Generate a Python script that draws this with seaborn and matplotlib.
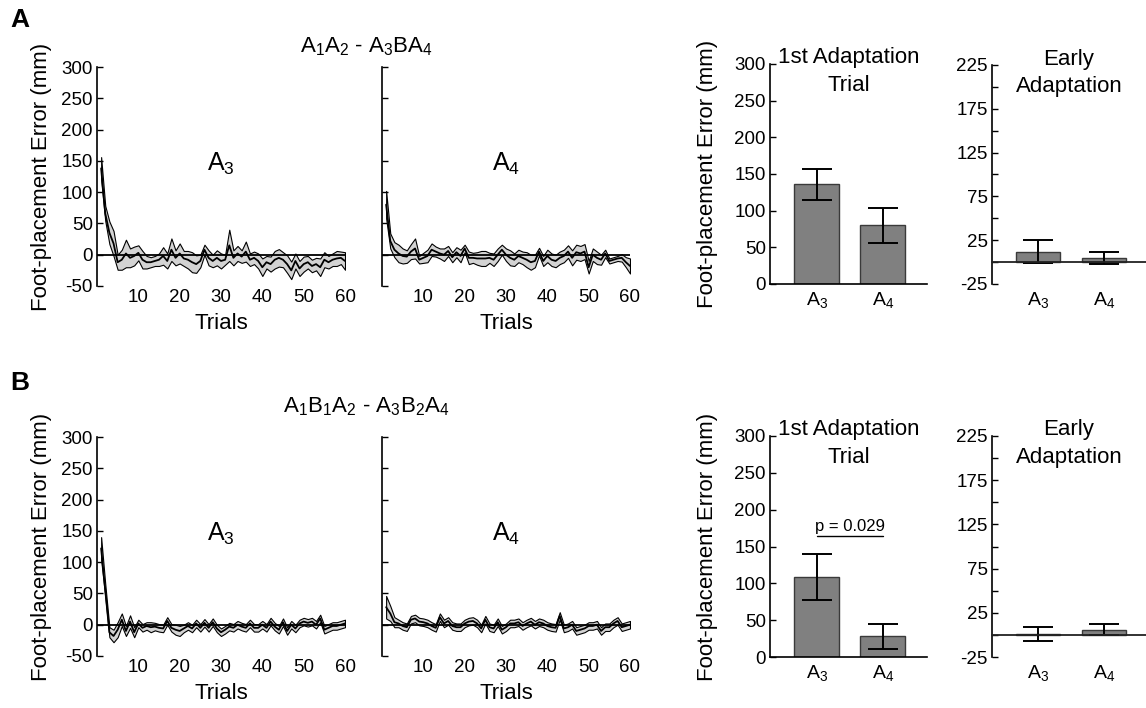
import numpy as np
import matplotlib
matplotlib.use('Agg')
import matplotlib.pyplot as plt
import seaborn as sns
from matplotlib.ticker import FixedLocator, FixedFormatter

sns.set_style('ticks')
plt.rcParams['font.family'] = ['Liberation Sans', 'DejaVu Sans']
plt.rcParams['mathtext.fontset'] = 'custom'
plt.rcParams['mathtext.rm'] = 'Liberation Sans'
plt.rcParams['mathtext.it'] = 'Liberation Sans:italic'
plt.rcParams['mathtext.bf'] = 'Liberation Sans:bold'
plt.rcParams['axes.unicode_minus'] = False
for k in ['text.color', 'axes.labelcolor', 'xtick.color', 'ytick.color', 'axes.edgecolor']:
    plt.rcParams[k] = 'black'

# ---- data ----
trials = np.arange(1, 61)

# A: A1A2 - A3BA4
a_a3_mean = [138, 66, 35, 18, -12, -8, 2, -5, -2, 3,
             -8, -12, -12, -10, -8, -2, -10, 8, -5, 2,
             -6, -8, -12, -15, -10, 8, -5, -10, -5, -10,
             -8, 15, -5, 2, -3, 5, -8, -5, -10, -20,
             -12, -15, -8, -5, -8, -15, -25, -10, -22, -15,
             -12, -18, -15, -20, -8, -12, -8, -6, -5, -10]
a_a3_sem = [18, 12, 18, 20, 12, 16, 22, 15, 15, 12,
            14, 10, 8, 8, 10, 14, 12, 18, 12, 16,
            12, 14, 16, 14, 10, 8, 12, 10, 12, 12,
            8, 25, 12, 12, 10, 16, 10, 10, 12, 14,
            10, 12, 14, 14, 12, 14, 14, 12, 12, 12,
            10, 10, 10, 14, 12, 10, 10, 12, 10, 14]
a_a4_mean = [80, 22, 8, 2, -2, -3, 5, 10, -8, -5,
             -2, 8, 5, 2, 0, 6, -4, 4, -2, 10,
             -5, -5, -6, -6, -6, -5, -8, 0, 8, 0,
             -5, -8, -2, -5, -8, -12, -10, 5, -10, -2,
             -8, -10, -5, -2, 5, -5, 4, 2, 5, -20,
             0, -5, -8, 2, -10, -8, -6, -5, -12, -18]
a_a4_sem = [22, 12, 12, 14, 12, 10, 12, 16, 6, 8,
            10, 10, 8, 8, 10, 8, 8, 8, 10, 6,
            10, 8, 10, 12, 12, 8, 10, 10, 8, 10,
            12, 10, 10, 10, 12, 12, 10, 6, 8, 10,
            10, 10, 10, 10, 10, 12, 12, 12, 12, 10,
            10, 10, 8, 6, 4, 4, 4, 6, 8, 12]

# B: A1B1A2 - A3B2A4
b_a3_mean = [122, 55, -12, -18, -8, 8, -10, 5, -12, 2,
             -5, -2, -4, -3, -5, -6, 6, -5, -8, -10,
             -6, -2, -6, 2, -5, 3, -5, 4, -6, -12,
             -8, -3, -5, 0, -3, -5, 2, -5, -5, 0,
             -5, 5, -3, -8, 4, -10, 0, -6, 2, 5,
             3, 5, 0, 10, -8, -5, -2, -2, 0, 2]
b_a3_sem = [18, 10, 8, 10, 12, 10, 8, 10, 8, 6,
            6, 6, 8, 6, 6, 6, 6, 6, 8, 8,
            6, 6, 6, 6, 6, 6, 6, 6, 6, 6,
            6, 6, 6, 6, 6, 6, 6, 6, 6, 6,
            6, 6, 6, 6, 6, 6, 6, 6, 6, 6,
            6, 6, 6, 6, 6, 6, 6, 6, 6, 6]
b_a4_mean = [28, 18, 4, 2, -2, -4, 8, 10, 5, 4,
             2, -2, -5, 12, 2, 6, -2, -4, -4, 2,
             5, 6, 2, -6, 8, -4, -6, 4, -8, -4,
             2, 2, 4, -2, 2, 5, 0, 4, 2, -2,
             -4, -5, 14, -6, -4, 0, -10, -8, -6, -2,
             -2, 0, -10, -4, -4, 2, 6, -4, -2, 0]
b_a4_sem = [18, 12, 8, 6, 6, 6, 6, 6, 6, 6,
            6, 6, 6, 6, 6, 6, 6, 6, 6, 6,
            6, 6, 6, 6, 6, 6, 6, 6, 6, 6,
            6, 6, 6, 6, 6, 6, 6, 6, 6, 6,
            6, 6, 6, 6, 6, 6, 6, 6, 6, 6,
            6, 6, 6, 6, 6, 6, 6, 6, 6, 6]

bar_labels = ['A$_3$', 'A$_4$']
a_first_mean = [136, 80]
a_first_sem = [21, 24]
a_early_mean = [12, 5]
a_early_sem = [13, 7]
b_first_mean = [109, 28]
b_first_sem = [31, 16.5]
b_early_mean = [1, 6]
b_early_sem = [8, 6]

W, H = 1146, 708
fig = plt.figure(figsize=(W / 100, H / 100), dpi=100)


def px_axes(l, t, r, b):
    return fig.add_axes([l / W, 1 - b / H, (r - l) / W, (b - t) / H])


TICK = 13.5
LAB = 16


def ts_panel(ax, mean, sem, label, show_y):
    mean = np.array(mean, float)
    sem = np.array(sem, float)
    ax.fill_between(trials, mean - sem, mean + sem, facecolor='#d3d3d3',
                    edgecolor='black', linewidth=0.8, zorder=1)
    sns.lineplot(x=trials, y=mean, ax=ax, color='black', linewidth=1.3, zorder=3)
    ax.axhline(0, color='black', linewidth=1.3, zorder=4)
    ax.set_xlim(0, 60)
    ax.set_ylim(-50, 300)
    sns.despine(ax=ax, bottom=True)
    ax.spines['left'].set_linewidth(1.2)
    ax.set_xticks([10, 20, 30, 40, 50, 60])
    ax.tick_params(axis='x', length=0, labelsize=TICK, pad=2)
    ax.set_yticks([-50, 0, 50, 100, 150, 200, 250, 300])
    ax.tick_params(axis='y', direction='in', length=4, width=1, labelsize=TICK, pad=3)
    ax.set_xlabel('Trials', fontsize=LAB, labelpad=5)
    if show_y:
        ax.set_ylabel('Foot-placement Error (mm)', fontsize=LAB, labelpad=7)
    else:
        ax.set_yticklabels([])
        ax.set_ylabel('')
    ax.text(30, 145, label, fontsize=18, ha='center', va='center')


def bar_panel(ax, means, sems, title, early, show_y):
    sns.barplot(x=bar_labels, y=means, ax=ax, color='#808080', saturation=1,
                edgecolor='#3a3a3a', linewidth=1.0, width=0.68, errorbar=None, zorder=2)
    ax.errorbar([0, 1], means, yerr=sems, fmt='none', ecolor='black',
                elinewidth=1.4, capsize=10.5, capthick=1.4, zorder=5)
    sns.despine(ax=ax)
    ax.spines['left'].set_linewidth(1.2)
    ax.tick_params(axis='x', length=0, labelsize=TICK + 0.5, pad=4)
    ax.tick_params(axis='y', direction='in', length=4, width=1, labelsize=TICK, pad=3)
    if early:
        ax.set_xlim(-0.70, 1.64)
        ax.set_ylim(-25, 225)
        ax.spines['bottom'].set_visible(False)
        ax.axhline(0, color='#222222', linewidth=1.3, zorder=6, clip_on=False)
        ticks = [-25, 0, 25, 50, 75, 100, 125, 150, 175, 200, 225]
        ax.yaxis.set_major_locator(FixedLocator(ticks))
        ax.yaxis.set_major_formatter(FixedFormatter(
            [str(t) if (t + 25) % 50 == 0 else '' for t in ticks]))
    else:
        ax.set_xlim(-0.71, 1.67)
        ax.set_ylim(0, 300)
        ax.spines['bottom'].set_linewidth(1.2)
        ax.set_yticks([0, 50, 100, 150, 200, 250, 300])
    if show_y:
        ax.set_ylabel('Foot-placement Error (mm)', fontsize=LAB, labelpad=12)
    ax.text(0.5, 1.075, title, transform=ax.transAxes, ha='center', va='top',
            fontsize=LAB, linespacing=1.4)


# ---- row A ----
ax1 = px_axes(97, 67, 345, 286)
ts_panel(ax1, a_a3_mean, a_a3_sem, 'A$_3$', True)
ax2 = px_axes(382, 67, 630, 286)
ts_panel(ax2, a_a4_mean, a_a4_sem, 'A$_4$', False)
ax3 = px_axes(770, 64, 927, 284)
bar_panel(ax3, a_first_mean, a_first_sem, '1st Adaptation\nTrial', False, True)
ax4 = px_axes(992, 65, 1146, 284)
bar_panel(ax4, a_early_mean, a_early_sem, 'Early\nAdaptation', True, False)

# ---- row B ----
ax5 = px_axes(97, 437, 345, 656)
ts_panel(ax5, b_a3_mean, b_a3_sem, 'A$_3$', True)
ax6 = px_axes(382, 437, 630, 656)
ts_panel(ax6, b_a4_mean, b_a4_sem, 'A$_4$', False)
ax7 = px_axes(770, 436, 927, 657)
bar_panel(ax7, b_first_mean, b_first_sem, '1st Adaptation\nTrial', False, True)
ax8 = px_axes(992, 436, 1146, 657)
bar_panel(ax8, b_early_mean, b_early_sem, 'Early\nAdaptation', True, False)

# significance marker
ax7.plot([0, 1], [164, 164], color='black', linewidth=1.0)
ax7.text(0.5, 167, 'p = 0.029', ha='center', va='bottom', fontsize=12)

fig.text(366 / W, 1 - 47 / H, 'A$_1$A$_2$ - A$_3$BA$_4$', ha='center', va='center', fontsize=LAB)
fig.text(366 / W, 1 - 407 / H, 'A$_1$B$_1$A$_2$ - A$_3$B$_2$A$_4$', ha='center', va='center', fontsize=LAB)
fig.text(20 / W, 1 - 20 / H, 'A', ha='center', va='center', fontsize=19, fontweight='bold')
fig.text(20 / W, 1 - 383 / H, 'B', ha='center', va='center', fontsize=19, fontweight='bold')

fig.savefig('out.png', dpi=100, facecolor='white')
